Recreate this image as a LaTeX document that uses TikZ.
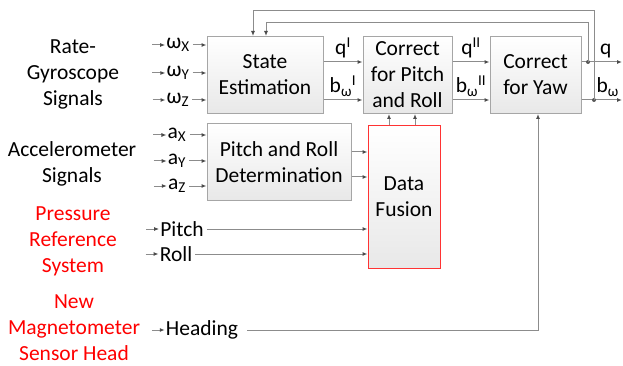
\documentclass[tikz,border=0pt]{standalone}
\usepackage{fontspec}
\setmainfont{Carlito}
\usetikzlibrary{arrows.meta, positioning}

\tikzset{
  block/.style={draw=black!35, line width=1pt, top color=white, bottom color=black!9, align=center, inner sep=2pt},
  fusionblock/.style={block, draw=red!80},
  arr/.style={draw=black!45, line width=1pt, -{Latex[length=5pt,width=4pt,color=black!70]}},
  src/.style={align=center},
  redsrc/.style={src, text=red},
  sig/.style={inner sep=1pt},
  dot/.style={circle, fill=black!65, inner sep=0pt, minimum size=4pt},
}

\begin{document}
\begin{tikzpicture}[x=1pt, y=-1pt, font=\fontsize{21.5}{26}\selectfont]
\useasboundingbox (0,0) rectangle (623,366);

% Blocks
\node[block, minimum width=116pt, minimum height=77pt] (state) at (265,75) {State\\Estimation};
\node[block, minimum width=89pt, minimum height=77pt] (cpr) at (407.5,75) {Correct\\for Pitch\\and Roll};
\node[block, minimum width=91pt, minimum height=77pt] (yaw) at (535.5,75) {Correct\\for Yaw};
\node[block, minimum width=144pt, minimum height=76pt] (prd) at (279,162) {Pitch and Roll\\Determination};
\node[fusionblock, minimum width=72pt, minimum height=142pt] (fusion) at (404,197) {Data\\Fusion};

% Sources
\node[src] (gyro) at (73,74) {Rate-\\Gyroscope\\Signals};
\node[src] (acc) at (72,164) {Accelerometer\\Signals};
\node[redsrc] (press) at (73,241) {Pressure\\Reference\\System};
\node[redsrc] (mag) at (74,328) {New\\Magnetometer\\Sensor Head};

% Signals
\node[sig] (wx) at (178,45) {ω\textsubscript{X}};
\node[sig] (wy) at (178,73) {ω\textsubscript{Y}};
\node[sig] (wz) at (178,100) {ω\textsubscript{Z}};
\node[sig] (ax) at (177,135) {a\textsubscript{X}};
\node[sig] (ay) at (177,161) {a\textsubscript{Y}};
\node[sig] (az) at (177,186) {a\textsubscript{Z}};
\node[sig] (pitch) at (182,229) {Pitch};
\node[sig] (roll) at (176,254) {Roll};
\node[sig] (heading) at (202,330) {Heading};

\foreach \s in {wx,wy,wz}
  \draw[arr] ([xshift=-13pt]\s.west) -- (\s.west);
\foreach \s in {wx,wy,wz}
  \draw[arr] ([xshift=2pt]\s.east) -- (state.west |- \s);
\foreach \s in {ax,ay,az}
  \draw[arr] ([xshift=-13pt]\s.west) -- (\s.west);
\foreach \s in {ax,ay,az}
  \draw[arr] ([xshift=2pt]\s.east) -- (prd.west |- \s);
\foreach \s in {pitch,roll,heading}
  \draw[arr] ([xshift=-13pt]\s.west) -- (\s.west);

% Rows
\coordinate (qrow) at (0,62);
\coordinate (brow) at (0,100);
\coordinate (r1) at (0,152);
\coordinate (r2) at (0,177);
\coordinate (qout) at (622,62);
\coordinate (bout) at (622,100);
\coordinate (qdot) at (588,62);
\coordinate (bdot) at (594,100);

% Main chain
\draw[arr] (state.east |- qrow) -- (cpr.west |- qrow) node[midway, above] {q\textsuperscript{I}};
\draw[arr] (state.east |- brow) -- (cpr.west |- brow) node[midway, above] {b\textsubscript{ω}\textsuperscript{I}};
\draw[arr] (cpr.east |- qrow) -- (yaw.west |- qrow) node[midway, above] {q\textsuperscript{II}};
\draw[arr] (cpr.east |- brow) -- (yaw.west |- brow) node[midway, above] {b\textsubscript{ω}\textsuperscript{II}};
\draw[arr] (yaw.east |- qrow) -- (qout) node[pos=0.6, above] {q};
\draw[arr] (yaw.east |- brow) -- (bout) node[pos=0.65, above] {b\textsubscript{ω}};
\node[dot] at (qdot) {};
\node[dot] at (bdot) {};

% Feedback
\draw[arr] (bdot) -- ++(0,-89) -| ([xshift=-12pt]state.north);
\draw[arr] (qdot) -- ++(0,-39) -| ([xshift=1pt]state.north);

% Fusion
\draw[arr] (prd.east |- r1) -- (fusion.west |- r1);
\draw[arr] (prd.east |- r2) -- (fusion.west |- r2);
\draw[arr] ([xshift=2pt]pitch.east) -- (fusion.west |- pitch);
\draw[arr] ([xshift=2pt]roll.east) -- (fusion.west |- roll);
\draw[arr] ([xshift=-15pt]fusion.north) -- ([xshift=-15pt]fusion.north |- cpr.south);
\draw[arr] ([xshift=11pt]fusion.north) -- ([xshift=11pt]fusion.north |- cpr.south);
\draw[arr] ([xshift=8pt]heading.east) -| ([xshift=2.5pt]yaw.south);
\end{tikzpicture}
\end{document}
